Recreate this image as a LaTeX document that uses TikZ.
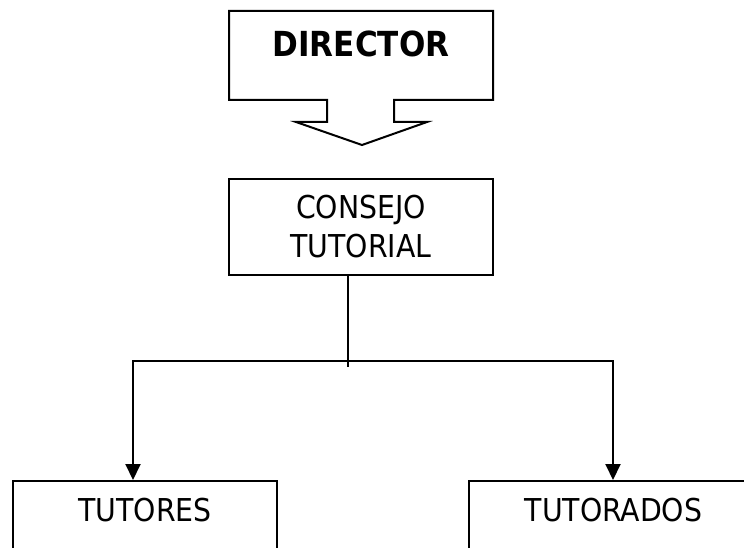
\documentclass[tikz,border=0pt]{standalone}
\usepackage{fontspec}
\setmainfont{DejaVu Sans Condensed}
\usetikzlibrary{arrows.meta}
\begin{document}
\begin{tikzpicture}[x=1pt,y=-1pt,
  boxline/.style={draw=black,line width=2pt},
  lbl/.style={font=\fontsize{31.5}{39}\selectfont,inner sep=0pt,align=center},
  conn/.style={draw=black,line width=2pt,line join=miter},
  arr/.style={conn,-{Triangle[width=15pt,length=16pt]}}]
\useasboundingbox (0,0) rectangle (744,548);
\clip (0,0) rectangle (744,548);
\fill[white] (0,0) rectangle (744,548);
% director callout
\draw[boxline,line join=miter] (327,100) -- (229,100) -- (229,11) -- (493,11) -- (493,100) -- (394,100)
  -- (394,122) -- (427,122) -- (362,145) -- (296,122) -- (327,122) -- cycle;
\node[font=\bfseries\fontsize{34.5}{40}\selectfont,inner sep=0pt,anchor=base] (director) at (361,57) {DIRECTOR};
% consejo
\node[boxline,lbl,minimum width=264pt,minimum height=96pt] (consejo) at (361,227) {CONSEJO\\TUTORIAL};
% bottom boxes
\node[boxline,lbl,minimum width=264pt,text height=40pt,text depth=42pt,anchor=base] (tutores) at (145,521) {TUTORES};
\node[boxline,lbl,minimum width=289pt,text height=40pt,text depth=42pt,anchor=base] (tutorados) at (613.5,521) {TUTORADOS};
% connectors
\coordinate (jc) at (348,367);
\coordinate (jl) at (133,361);
\coordinate (jr) at (613,361);
\draw[black,line width=1.4pt] (consejo.south -| jc) -- (jc);
\draw[arr] (jr) -- (jl) -- (jl |- tutores.north);
\draw[arr] (jl) -- (jr) -- (jr |- tutorados.north);
\end{tikzpicture}
\end{document}
